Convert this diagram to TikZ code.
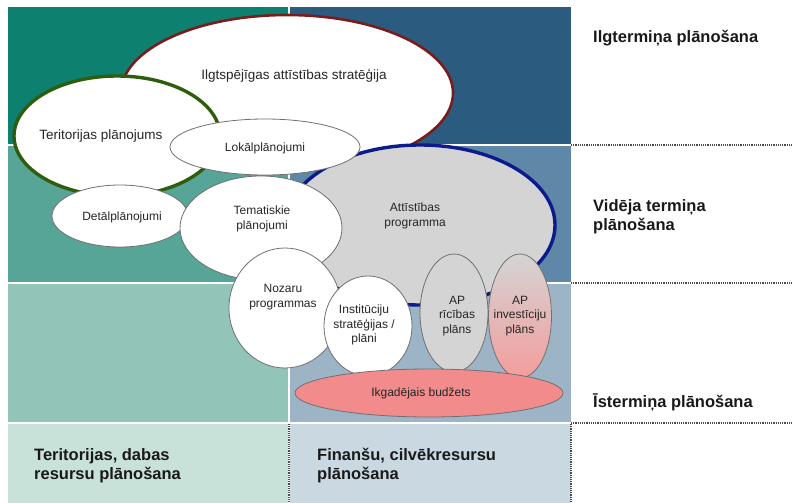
\documentclass[tikz,border=0pt]{standalone}
\usepackage{fontspec}
\setmainfont{Liberation Sans}
\usetikzlibrary{shapes.geometric}

\definecolor{tealdark}{HTML}{0E8070}
\definecolor{bluedark}{HTML}{2B5C80}
\definecolor{tealmid}{HTML}{57A597}
\definecolor{bluemid}{HTML}{5F87A8}
\definecolor{teallight}{HTML}{93C4B8}
\definecolor{bluelight}{HTML}{9CB4C6}
\definecolor{tealpale}{HTML}{C8E2DA}
\definecolor{bluepale}{HTML}{CAD8E2}
\definecolor{rimred}{HTML}{7B1C1C}
\definecolor{rimgreen}{HTML}{2F5D0E}
\definecolor{rimblue}{HTML}{0B1B8C}
\definecolor{planfill}{HTML}{D4D4D4}
\definecolor{budgetfill}{HTML}{F28B8B}
\definecolor{rimgray}{HTML}{707070}

\tikzset{
  plan/.style={ellipse, draw=rimgray, fill=white, inner sep=0pt, line width=0.8pt},
  txt/.style={align=center, text=black!85, font=\fontsize{12}{14.5}\selectfont},
  bigtxt/.style={txt, font=\fontsize{13.5}{16}\selectfont},
  head/.style={align=left, anchor=west, inner sep=0pt, text=black!90, font=\bfseries\fontsize{16.5}{19}\selectfont},
  sep/.style={densely dotted, line width=1.2pt, black!70}
}

\begin{document}
\begin{tikzpicture}[x=1pt,y=-1pt]
	\useasboundingbox (0,0) rectangle (792,503);
	\fill[tealdark] (8,7) rectangle (288,144);
	\fill[bluedark] (290,7) rectangle (571,144);
	\fill[tealmid] (8,146) rectangle (288,282);
	\fill[bluemid] (290,146) rectangle (571,282);
	\fill[teallight] (8,284) rectangle (288,422);
	\fill[bluelight] (290,284) rectangle (571,422);
	\fill[tealpale] (8,424) rectangle (288,503);
	\fill[bluepale] (290,424) rectangle (571,503);
	
	\draw[sep] (571,145) -- (792,145);
	\draw[sep] (571,283) -- (792,283);
	\draw[sep] (571,423) -- (792,423);
	\draw[sep] (289,424) -- (289,503);
	\draw[sep] (571,424) -- (571,503);
	
	\node[plan, draw=rimred, line width=2.6pt, minimum width=332pt, minimum height=156pt] (strat) at (287,93) {};
	\node[bigtxt] (strat-t) at (294,76) {Ilgtspējīgas attīstības stratēģija};
	\node[plan, draw=rimgreen, line width=3.4pt, minimum width=206pt, minimum height=120pt] (terpl) at (117,136) {};
	\node[bigtxt] (terpl-t) at (101,136) {Teritorijas plānojums};
	\node[plan, draw=rimblue, fill=planfill, line width=3.4pt, minimum width=270pt, minimum height=160pt] (attp) at (420,225) {};
	\node[txt] (attp-t) at (415,216) {Attīstības\\programma};
	\node[plan, minimum width=190pt, minimum height=56pt] (lokal) at (265,147) {};
	\node[txt] (lokal-t) at (265,148) {Lokālplānojumi};
	\node[plan, minimum width=136pt, minimum height=62pt] (detal) at (120,216) {};
	\node[txt] (detal-t) at (122,217) {Detālplānojumi};
	\node[plan, minimum width=162pt, minimum height=104pt] (temat) at (261,228) {};
	\node[txt] (temat-t) at (262,219) {Tematiskie\\plānojumi};
	\node[plan, minimum width=112pt, minimum height=120pt] (nozar) at (285,308) {};
	\node[txt] (nozar-t) at (283,297) {Nozaru\\programmas};
	\node[plan, minimum width=88pt, minimum height=100pt] (instit) at (368,326) {};
	\node[txt] (instit-t) at (364,325) {Institūciju\\stratēģijas /\\plāni};
	\node[plan, fill=planfill, minimum width=68pt, minimum height=118pt] (apric) at (454,313) {};
	\node[txt] (apric-t) at (457,316) {AP\\rīcības\\plāns};
	\node[plan, top color=planfill, middle color=planfill!60!budgetfill, bottom color=budgetfill!85!white, minimum width=63pt, minimum height=124pt] (apinv) at (520,316) {};
	\node[txt] (apinv-t) at (520,316) {AP\\investīciju\\plāns};
	\node[plan, fill=budgetfill, minimum width=268pt, minimum height=48pt] (budget) at (429,393) {};
	\node[txt] (budget-t) at (421,393) {Ikgadējais budžets};
	
	\node[head] (long) at (593,38) {Ilgtermiņa plānošana};
	\node[head] (mid) at (593,217) {Vidēja termiņa\\plānošana};
	\node[head] (short) at (593,402) {Īstermiņa plānošana};
	\node[head] (terr) at (34,466) {Teritorijas, dabas\\resursu plānošana};
	\node[head] (fin) at (317,466) {Finanšu, cilvēkresursu\\plānošana};
\end{tikzpicture}
\end{document}
